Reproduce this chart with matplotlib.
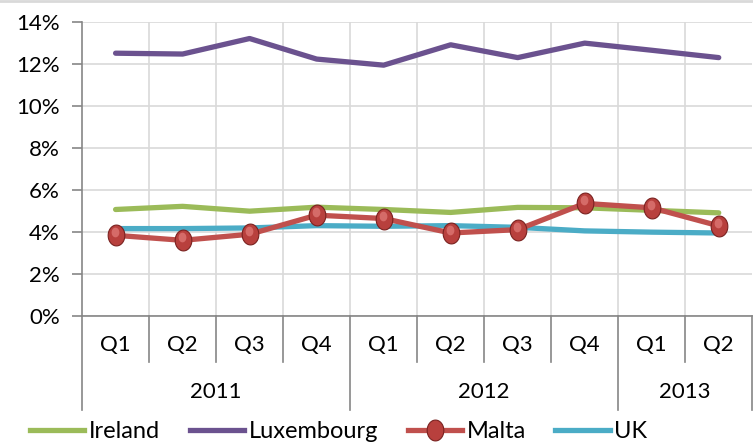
import matplotlib.pyplot as plt
import matplotlib.transforms as mtransforms
from matplotlib.path import Path
from matplotlib.lines import Line2D
import numpy as np

plt.rcParams['font.family'] = ['Lato', 'DejaVu Sans']

quarters = ['Q1', 'Q2', 'Q3', 'Q4', 'Q1', 'Q2', 'Q3', 'Q4', 'Q1', 'Q2']
years = ['2011', '2012', '2013']
year_spans = [4, 4, 2]

ireland = [5.07, 5.22, 4.99, 5.18, 5.07, 4.93, 5.17, 5.15, 5.03, 4.91]
luxembourg = [12.52, 12.48, 13.22, 12.24, 11.95, 12.92, 12.31, 13.0, 12.66, 12.31]
malta = [3.84, 3.6, 3.89, 4.8, 4.64, 3.95, 4.11, 5.36, 5.15, 4.29]
uk = [4.16, 4.16, 4.19, 4.3, 4.27, 4.3, 4.22, 4.05, 3.99, 3.95]

fig = plt.figure(figsize=(7.53, 4.43), dpi=100)
ax = fig.add_axes([0.109, 0.287, 0.890, 0.663])

x = np.arange(len(quarters)) + 0.5

# tall ellipse marker for Malta
t = np.linspace(0, 2 * np.pi, 60)
ell = Path(np.column_stack([0.8 * np.cos(t), np.sin(t)]), closed=True)

ax.plot(x, ireland, color='#9BBB59', lw=3.8, solid_capstyle='round', zorder=3)
ax.plot(x, luxembourg, color='#6B528F', lw=3.8, solid_capstyle='round', zorder=3)
ax.plot(x, malta, color='#C0504D', lw=3.8, solid_capstyle='round', marker=ell, ms=15,
        mfc='#B8403D', mec='#7A2220', mew=0.8, zorder=4)
ax.plot(x, malta, ls='none', marker=ell, ms=7, mfc='#D9706D', mec='none', zorder=5, alpha=0.9,
        transform=ax.transData + mtransforms.ScaledTranslation(-1 / 100, 3 / 100, fig.dpi_scale_trans))
ax.plot(x, uk, color='#4BACC6', lw=3.8, solid_capstyle='round', zorder=3)

ax.set_xlim(0, len(quarters))
ax.set_ylim(0, 14)
ax.set_yticks(np.arange(0, 15, 2))
ax.set_yticklabels([f'{v}%' for v in range(0, 15, 2)], fontsize=16)
ax.set_xticks(np.arange(1, len(quarters)))
ax.set_xticklabels([])
ax.tick_params(axis='x', length=0)
ax.tick_params(axis='y', length=7, color='#868686', width=1.2, pad=9)
ax.grid(True, color='#D9D9D9', lw=1.2)
ax.set_axisbelow(True)
for s in ['top', 'right']:
    ax.spines[s].set_visible(False)
for s in ['left', 'bottom']:
    ax.spines[s].set_color('#868686')
    ax.spines[s].set_linewidth(1.2)

# two-level category axis
tr = mtransforms.blended_transform_factory(ax.transData, ax.transAxes)
for i, q in enumerate(quarters):
    ax.text(i + 0.5, -0.10, q, transform=tr, ha='center', va='center', fontsize=16)
bounds = np.cumsum([0] + year_spans)
for i in range(1, len(quarters)):
    if i not in bounds:
        ax.plot([i, i], [0, -0.157], transform=tr, color='#868686', lw=1.2, clip_on=False)
for b in bounds:
    ax.plot([b, b], [0, -0.32], transform=tr, color='#868686', lw=1.2, clip_on=False)
for yr, a, b in zip(years, bounds[:-1], bounds[1:]):
    ax.text((a + b) / 2, -0.26, yr, transform=tr, ha='center', va='center', fontsize=16)

handles = [
    Line2D([], [], color='#9BBB59', lw=3.8),
    Line2D([], [], color='#6B528F', lw=3.8),
    Line2D([], [], color='#C0504D', lw=3.8, marker=ell, ms=15, mfc='#B8403D', mec='#7A2220', mew=0.8),
    Line2D([], [], color='#4BACC6', lw=3.8),
]
fig.legend(handles, ['Ireland', 'Luxembourg', 'Malta', 'UK'], loc='center left',
           bbox_to_anchor=(0.024, 0.025), ncol=4, frameon=False, borderpad=0,
           fontsize=17, handlelength=2.3, handletextpad=0.2, columnspacing=1.25)

fig.add_artist(Line2D([0, 1], [0.997, 0.997], transform=fig.transFigure, color='#D9D9D9', lw=2))

fig.savefig('out.png', dpi=100)
